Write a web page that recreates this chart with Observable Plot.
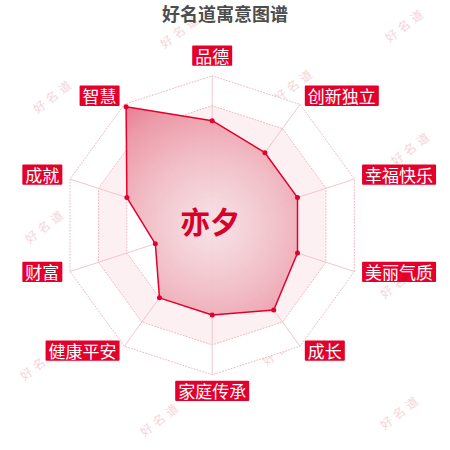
<!DOCTYPE html>
<html><head><meta charset="utf-8">
<script src="https://cdn.jsdelivr.net/npm/d3@7"></script>
<script src="https://cdn.jsdelivr.net/npm/@observablehq/plot@0.6"></script>
<style>
body{margin:0;background:#fff;font-family:"Noto Sans CJK SC","Noto Sans",sans-serif;}
#wrap{position:relative;width:450px;height:450px;}
#title{position:relative;height:22px;line-height:normal;text-align:center;font-size:18px;font-weight:bold;color:#4d4d4d;z-index:1;overflow:visible;}
#wm{position:absolute;left:0;top:0;width:450px;height:450px;pointer-events:none;z-index:0;}
#wm span{position:absolute;transform:translate(-50%,-50%) rotate(-38deg);font-size:12px;color:#f5d4da;letter-spacing:4px;white-space:nowrap;}
#chart{position:relative;z-index:1;}
</style></head>
<body><div id="wrap"><div id="wm"></div><div id="title">好名道寓意图谱</div><div id="chart"></div></div>
<script>
// ---- data ----
const dims = ["品德","创新独立","幸福快乐","美丽气质","成长","家庭传承","健康平安","财富","成就","智慧"];
const values = [70,60,60,60,70,60,60,40,60,98];
const ringLevels = [20,40,60,80,100];
const maxValue = 100;
const centerName = "亦夕";
const watermarkText = "好名道";
// decoration only (page pixel positions of faint watermarks)
const watermarkX = [180,405,53,294,411,45,290,155,400,282,40,160,400];
const watermarkY = [30,24,95,84,147,225,215,290,280,347,362,418,411];

// ---- watermarks ----
const wm = document.getElementById("wm");
watermarkX.forEach((x,i)=>{
  const s=document.createElement("span");
  s.textContent=watermarkText; s.style.left=x+"px"; s.style.top=watermarkY[i]+"px";
  wm.appendChild(s);
});

// ---- geometry ----
const W=450, H=428, k=1.495, cx=211.7, cy=202.8;
const n = dims.length;
const ang = i => i*2*Math.PI/n;
const pts = dims.map((d,i)=>({name:d, value:values[i], x:values[i]*Math.sin(ang(i)), y:values[i]*Math.cos(ang(i)), i}));
const spokes = dims.map((d,i)=>({x2:maxValue*Math.sin(ang(i)), y2:maxValue*Math.cos(ang(i))}));
const labelR = maxValue*1.054;
const labels = dims.map((d,i)=>{
  const s=Math.sin(ang(i));
  return {name:d, x:labelR*s, y:labelR*Math.cos(ang(i)), side: s>0.01?"right":(s<-0.01?"left":(Math.cos(ang(i))>0?"top":"bottom"))};
});
const ringMarks = ringLevels.map((lv,j)=>({lv,j})).reverse().map(({lv,j})=>
  Plot.line(dims.map((d,i)=>({x:lv*Math.sin(ang(i)), y:lv*Math.cos(ang(i))})),
    {x:"x", y:"y", curve:"linear-closed", fill: j%2===0 ? "#ffffff" : "#fdf0f2",
     stroke:"#efb9c2", strokeWidth:1, strokeDasharray:"1,2"})
);

const gradient = (index, scales) => {
  const x0=scales.x(0), y0=scales.y(0), r=scales.x(maxValue)-scales.x(0);
  const defs = d3.create("svg:defs");
  const g = defs.append("radialGradient").attr("id","radarGrad").attr("gradientUnits","userSpaceOnUse")
    .attr("cx",x0).attr("cy",y0).attr("r",r);
  [[0,"#f6e2e6"],[0.3,"#f3cbd2"],[0.6,"#efadb8"],[0.8,"#eb96a5"],[1,"#e47489"]].forEach(([o,c])=>
    g.append("stop").attr("offset",o).attr("stop-color",c));
  return defs.node();
};

const font = "Noto Sans CJK SC";
const labelOpts = {x:"x", y:"y", text:"name", fill:"white", fontSize:17, fontFamily:font};

const svg = Plot.plot({
  width:W, height:H, margin:0,
  x:{domain:[-cx/k,(W-cx)/k], axis:null},
  y:{domain:[(cy-H)/k, cy/k], axis:null},
  style:{fontFamily:font, background:"transparent"},
  marks:[
    gradient,
    ...ringMarks,
    Plot.link(spokes,{x1:()=>0, y1:()=>0, x2:"x2", y2:"y2", stroke:"#f1c6ce", strokeWidth:1}),
    Plot.line(pts,{x:"x", y:"y", curve:"linear-closed", fill:"url(#radarGrad)", fillOpacity:0.95, stroke:"#e3002b", strokeWidth:1.5}),
    Plot.dot(pts,{x:"x", y:"y", r:2.5, fill:"#e3002b"}),
    Plot.text([centerName],{x:()=>0, y:()=>0, text:d=>d, fontSize:30, fontWeight:"bold", fill:"#d9002b", fontFamily:font, dx:-2, dy:-2}),
    Plot.text(labels.filter(d=>d.side==="right"),{...labelOpts, textAnchor:"start", dx:3}),
    Plot.text(labels.filter(d=>d.side==="left"),{...labelOpts, textAnchor:"end", dx:-3}),
    Plot.text(labels.filter(d=>d.side==="top"),{...labelOpts, textAnchor:"middle", dy:-10}),
    Plot.text(labels.filter(d=>d.side==="bottom"),{...labelOpts, textAnchor:"middle", dy:10})
  ]
});
document.getElementById("chart").appendChild(svg);

// label boxes behind label texts
svg.querySelectorAll('g[fill="white"] text').forEach(t=>{
  const b=t.getBBox();
  const r=document.createElementNS("http://www.w3.org/2000/svg","rect");
  r.setAttribute("x",b.x-3); r.setAttribute("width",b.width+6);
  r.setAttribute("y",b.y+b.height/2-10.15); r.setAttribute("height",20.3);
  r.setAttribute("fill","#e3002b"); r.setAttribute("rx",1);
  if(t.getAttribute("transform")) r.setAttribute("transform",t.getAttribute("transform"));
  t.parentNode.insertBefore(r,t);
});
</script>
</body></html>
